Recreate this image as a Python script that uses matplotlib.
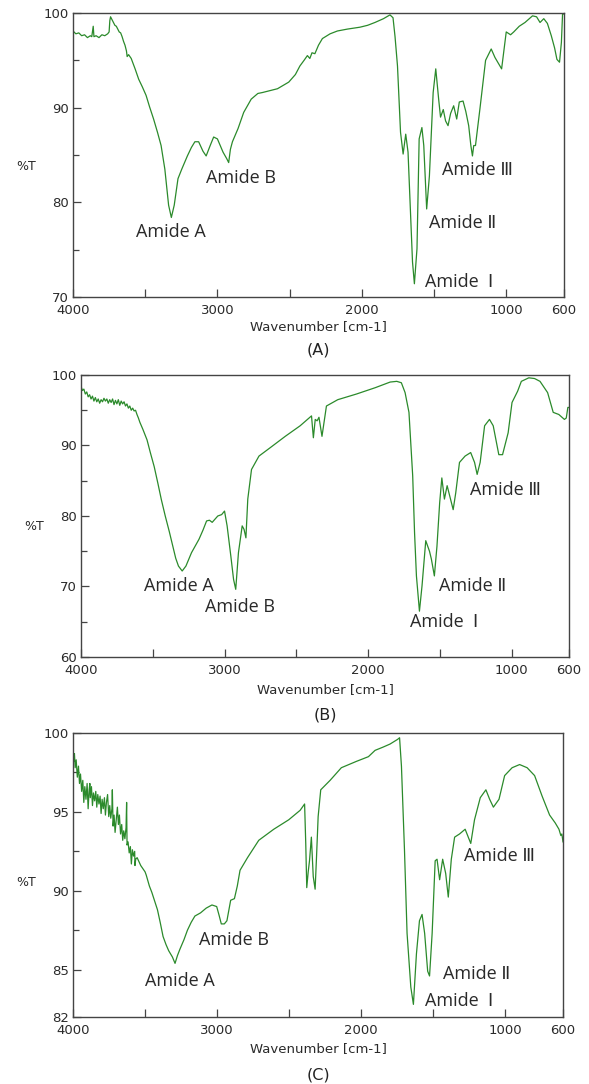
import matplotlib
matplotlib.use("Agg")
import matplotlib.pyplot as plt
from matplotlib.ticker import FixedLocator, MultipleLocator

# ---------------- data ----------------
wn_a = [4000, 3980, 3960, 3940, 3920, 3900, 3880, 3870, 3860, 3855, 3840, 3820, 3800, 3780,
        3760, 3750, 3745, 3740, 3730, 3720, 3710, 3700, 3690, 3680, 3670, 3660, 3650, 3640,
        3630, 3625, 3615, 3597, 3570, 3545, 3520, 3494, 3470, 3442, 3415, 3390, 3364, 3338,
        3319, 3299, 3273, 3247, 3208, 3180, 3156, 3130, 3100, 3078, 3050, 3026, 3000, 2961,
        2935, 2922, 2910, 2896, 2857, 2818, 2766, 2720, 2688, 2584, 2506, 2460, 2429, 2400,
        2377, 2360, 2345, 2325, 2300, 2273, 2220, 2169, 2100, 2013, 1960, 1909, 1850, 1805,
        1784, 1770, 1753, 1732, 1714, 1696, 1680, 1662, 1649, 1636, 1618, 1603, 1584, 1571,
        1551, 1532, 1506, 1488, 1468, 1455, 1436, 1420, 1403, 1385, 1364, 1343, 1325, 1299,
        1280, 1260, 1245, 1234, 1225, 1213, 1182, 1143, 1104, 1078, 1032, 1000, 970, 948, 910,
        870, 818, 790, 766, 740, 715, 688, 665, 649, 631, 618, 610, 600]
t_a = [98.1, 97.8, 97.9, 97.6, 97.7, 97.4, 97.6, 97.5, 98.6, 97.5, 97.6, 97.4, 97.7, 97.6,
       97.8, 98.0, 99.2, 99.6, 99.3, 99.0, 98.7, 98.6, 98.3, 98.0, 97.9, 97.5, 97.0, 96.6,
       96.0, 95.4, 95.6, 95.2, 94.1, 93.0, 92.2, 91.3, 90.1, 88.8, 87.4, 86.0, 83.5, 79.7,
       78.4, 79.7, 82.5, 83.5, 84.9, 85.8, 86.4, 86.4, 85.4, 84.9, 86.0, 86.9, 86.7, 85.3,
       84.6, 84.2, 85.6, 86.4, 87.8, 89.5, 90.9, 91.5, 91.6, 92.0, 92.7, 93.5, 94.4, 95.0,
       95.5, 95.2, 95.8, 95.7, 96.6, 97.3, 97.8, 98.1, 98.3, 98.5, 98.7, 99.0, 99.4, 99.8,
       99.5, 97.5, 94.4, 87.4, 85.1, 87.2, 85.3, 78.6, 73.7, 71.4, 75.1, 86.7, 87.9, 86.0,
       79.3, 82.8, 91.6, 94.1, 90.9, 89.0, 89.8, 88.6, 88.1, 89.4, 90.2, 88.8, 90.6, 90.7,
       89.6, 88.1, 86.0, 84.9, 86.0, 86.0, 89.9, 95.0, 96.2, 95.3, 94.1, 98.0, 97.7, 98.0, 98.6,
       99.0, 99.7, 99.6, 99.0, 99.4, 98.9, 97.6, 96.3, 95.1, 94.8, 96.9, 99.9, 99.9]

wn_b = [4000, 3990, 3980, 3970, 3960, 3950, 3940, 3930, 3920, 3910, 3900, 3890, 3880, 3870,
        3860, 3850, 3840, 3830, 3820, 3810, 3800, 3790, 3780, 3770, 3760, 3750, 3740, 3730,
        3720, 3710, 3700, 3690, 3680, 3670, 3660, 3650, 3640, 3630, 3620, 3610, 3600, 3590,
        3569, 3540, 3517, 3490, 3465, 3440, 3413, 3385, 3360, 3340, 3321, 3295, 3269, 3230,
        3178, 3150, 3125, 3105, 3086, 3047, 3020, 3000, 2982, 2956, 2937, 2922, 2903, 2877,
        2864, 2851, 2838, 2812, 2760, 2681, 2577, 2473, 2394, 2381, 2368, 2355, 2342, 2321,
        2290, 2211, 2081, 1950, 1846, 1800, 1768, 1742, 1715, 1689, 1676, 1663, 1642, 1624,
        1598, 1572, 1559, 1538, 1520, 1501, 1486, 1468, 1449, 1428, 1407, 1389, 1363, 1324,
        1285, 1258, 1240, 1219, 1188, 1154, 1128, 1089, 1063, 1024, 997, 958, 932, 880, 840,
        802, 749, 710, 671, 632, 619, 608, 600]
t_b = [98.4, 97.8, 98.0, 97.3, 97.6, 96.9, 97.2, 96.6, 97.0, 96.3, 96.8, 96.2, 96.6, 96.0,
       96.5, 96.2, 96.7, 96.3, 96.6, 96.0, 96.5, 96.1, 96.6, 95.8, 96.4, 95.9, 96.5, 95.7,
       96.3, 95.9, 96.2, 95.6, 95.9, 95.3, 95.6, 95.0, 95.3, 94.9, 95.0, 94.4, 93.9, 93.3,
       92.3, 90.8, 89.0, 87.0, 84.7, 82.3, 80.0, 77.8, 75.7, 74.0, 72.9, 72.2, 72.9, 74.8,
       76.7, 78.0, 79.3, 79.4, 79.1, 80.0, 80.2, 80.7, 78.6, 74.3, 71.0, 69.6, 74.8, 78.6,
       78.1, 76.9, 82.4, 86.6, 88.5, 89.7, 91.3, 92.8, 94.2, 91.1, 93.7, 93.5, 94.0, 91.3,
       95.6, 96.5, 97.3, 98.2, 99.0, 99.1, 98.9, 97.5, 94.7, 85.7, 77.6, 71.5, 66.5, 70.1,
       76.5, 75.0, 73.9, 71.5, 75.7, 81.9, 85.4, 82.4, 84.3, 82.6, 80.9, 83.3, 87.6, 88.5,
       89.0, 87.6, 85.9, 87.6, 92.8, 93.7, 92.8, 88.7, 88.7, 91.8, 96.1, 97.7, 99.1, 99.6, 99.5,
       99.1, 97.5, 94.7, 94.4, 93.7, 93.9, 95.4, 95.4]

wn_c = [4000, 3995, 3990, 3985, 3978, 3970, 3962, 3955, 3948, 3940, 3932, 3925, 3918, 3910,
        3902, 3895, 3888, 3883, 3880, 3872, 3865, 3858, 3850, 3842, 3835, 3828, 3820, 3812,
        3805, 3798, 3790, 3782, 3775, 3768, 3760, 3752, 3745, 3738, 3730, 3727, 3722, 3715,
        3708, 3700, 3692, 3685, 3678, 3670, 3662, 3655, 3648, 3640, 3632, 3628, 3625, 3618,
        3610, 3602, 3595, 3588, 3580, 3572, 3570, 3565, 3555, 3545, 3530, 3515, 3500, 3492,
        3470, 3453, 3435, 3414, 3395, 3375, 3355, 3336, 3310, 3292, 3275, 3258, 3230, 3206,
        3180, 3154, 3115, 3076, 3036, 3003, 2985, 2971, 2950, 2932, 2906, 2880, 2860, 2841,
        2789, 2711, 2607, 2503, 2424, 2393, 2385, 2378, 2368, 2359, 2346, 2333, 2320, 2310,
        2299, 2281, 2216, 2138, 2034, 1950, 1904, 1850, 1800, 1747, 1734, 1721, 1700, 1682,
        1656, 1638, 1617, 1596, 1578, 1560, 1539, 1526, 1508, 1487, 1474, 1456, 1435, 1414,
        1396, 1375, 1352, 1318, 1279, 1240, 1214, 1174, 1135, 1109, 1083, 1044, 1005, 953,
        901, 849, 797, 745, 693, 654, 628, 615, 608, 600]
t_c = [98.9, 98.2, 98.7, 97.8, 98.3, 97.2, 97.9, 96.8, 97.4, 96.3, 97.0, 95.6, 96.6, 95.8,
       96.8, 95.2, 96.4, 96.8, 95.9, 96.6, 95.4, 96.2, 95.7, 96.3, 95.3, 96.1, 95.5, 96.0,
       94.9, 95.8, 95.2, 95.9, 94.8, 95.6, 96.1, 94.7, 95.4, 94.6, 95.2, 96.4, 94.1, 94.8,
       93.7, 94.5, 95.3, 94.2, 94.8, 93.6, 94.2, 93.2, 93.8, 93.3, 94.0, 95.6, 92.9, 93.1,
       92.4, 92.8, 91.7, 92.6, 92.2, 92.5, 91.6, 92.0, 92.1, 91.9, 91.6, 91.4, 91.2, 91.0,
       90.3, 89.9, 89.4, 88.8, 88.0, 87.1, 86.6, 86.2, 85.8, 85.4, 85.9, 86.3, 86.9, 87.5,
       88.0, 88.4, 88.6, 88.9, 89.1, 89.0, 88.4, 87.9, 87.9, 88.1, 89.4, 89.5, 90.3, 91.3,
       92.1, 93.2, 93.9, 94.5, 95.1, 95.5, 93.0, 90.2, 91.2, 91.9, 93.4, 90.9, 90.1, 92.2,
       94.7, 96.4, 97.0, 97.8, 98.2, 98.5, 98.9, 99.1, 99.3, 99.6, 99.7, 97.9, 92.6, 87.3,
       83.9, 82.8, 86.0, 88.1, 88.5, 87.3, 84.9, 84.6, 87.3, 91.9, 92.0, 90.7, 92.0, 91.1,
       89.6, 92.0, 93.4, 93.6, 93.9, 93.0, 94.5, 95.9, 96.4, 95.8, 95.3, 95.8, 97.3, 97.8,
       98.0, 97.8, 97.3, 96.0, 94.8, 94.3, 93.9, 93.5, 93.6, 93.1]

# amide band labels: (text, wavenumber, %T)
labels_a = [("Amide A", 3319, 76.9), ("Amide B", 2839, 82.6), ("Amide Ⅲ", 1200, 83.4),
            ("Amide Ⅱ", 1304, 77.8), ("Amide  Ⅰ", 1325, 71.6)]
labels_b = [("Amide A", 3321, 70.1), ("Amide B", 2890, 67.1), ("Amide Ⅲ", 1044, 83.7),
            ("Amide Ⅱ", 1272, 70.1), ("Amide  Ⅰ", 1472, 64.9)]
labels_c = [("Amide A", 3258, 84.3), ("Amide B", 2883, 86.9), ("Amide Ⅲ", 1044, 92.2),
            ("Amide Ⅱ", 1201, 84.7), ("Amide  Ⅰ", 1318, 83.0)]

panel_names = ["(A)", "(B)", "(C)"]
xtick_vals = [4000, 3000, 2000, 1000, 600]
xminor_vals = [3500, 2500, 1500]
yticks_a = [70, 80, 90, 100]
yticks_b = [60, 70, 80, 90, 100]
yticks_c = [82, 85, 90, 95, 100]

# ---------------- figure ----------------
W, H = 589, 1084
fig = plt.figure(figsize=(W / 100, H / 100), dpi=100)

GREEN = "#2b8a2b"
TXT = "#2a2a2a"
LBL_FONT = ["Open Sans", "DejaVu Sans"]


def px_axes(l, t, r, b):
    return fig.add_axes([l / W, 1 - b / H, (r - l) / W, (b - t) / H])


def fig_text(x, y, s, **kw):
    fig.text(x / W, 1 - y / H, s, ha="center", va="center", **kw)


panels = [
    dict(box=(73, 13, 564, 297), wn=wn_a, t=t_a, ylim=(70, 100), yt=yticks_a, ymin=MultipleLocator(5),
         labels=labels_a, ylab=(26, 166), xlab=327, name=350),
    dict(box=(81, 375, 569, 657), wn=wn_b, t=t_b, ylim=(60, 100), yt=yticks_b, ymin=MultipleLocator(5),
         labels=labels_b, ylab=(34, 526), xlab=690, name=715),
    dict(box=(73, 733, 563, 1017), wn=wn_c, t=t_c, ylim=(82, 100), yt=yticks_c,
         ymin=FixedLocator([87.5, 92.5, 97.5]),
         labels=labels_c, ylab=(26, 883), xlab=1049, name=1075),
]

for p, name in zip(panels, panel_names):
    ax = px_axes(*p["box"])
    ax.plot(p["wn"], p["t"], color=GREEN, lw=0.9)
    ax.set_xlim(4000, 600)
    ax.set_ylim(*p["ylim"])
    ax.set_xticks(xtick_vals)
    ax.set_xticks(xminor_vals, minor=True)
    ax.set_yticks(p["yt"])
    ax.yaxis.set_minor_locator(p["ymin"])
    ax.tick_params(axis="both", which="both", direction="in", colors="#444444",
                   labelcolor=TXT, labelsize=9.5, width=0.9)
    ax.tick_params(axis="both", which="major", length=6)
    ax.tick_params(axis="both", which="minor", length=4)
    ax.tick_params(axis="x", which="both", length=6, pad=5)
    ax.tick_params(axis="y", pad=3)
    for sp in ax.spines.values():
        sp.set_color("#444444")
        sp.set_linewidth(1.0)
    for s, x, y in p["labels"]:
        ax.text(x, y, s, ha="center", va="center", fontsize=13, color=TXT,
                family=LBL_FONT)
    fig_text(p["ylab"][0], p["ylab"][1], "%T", fontsize=9, color=TXT)
    cx = (p["box"][0] + p["box"][2]) / 2
    fig_text(cx, p["xlab"], "Wavenumber [cm-1]", fontsize=9.5, color=TXT)
    fig_text(cx, p["name"], name, fontsize=11.5, color="#222222")

fig.savefig("out.png", dpi=100)
